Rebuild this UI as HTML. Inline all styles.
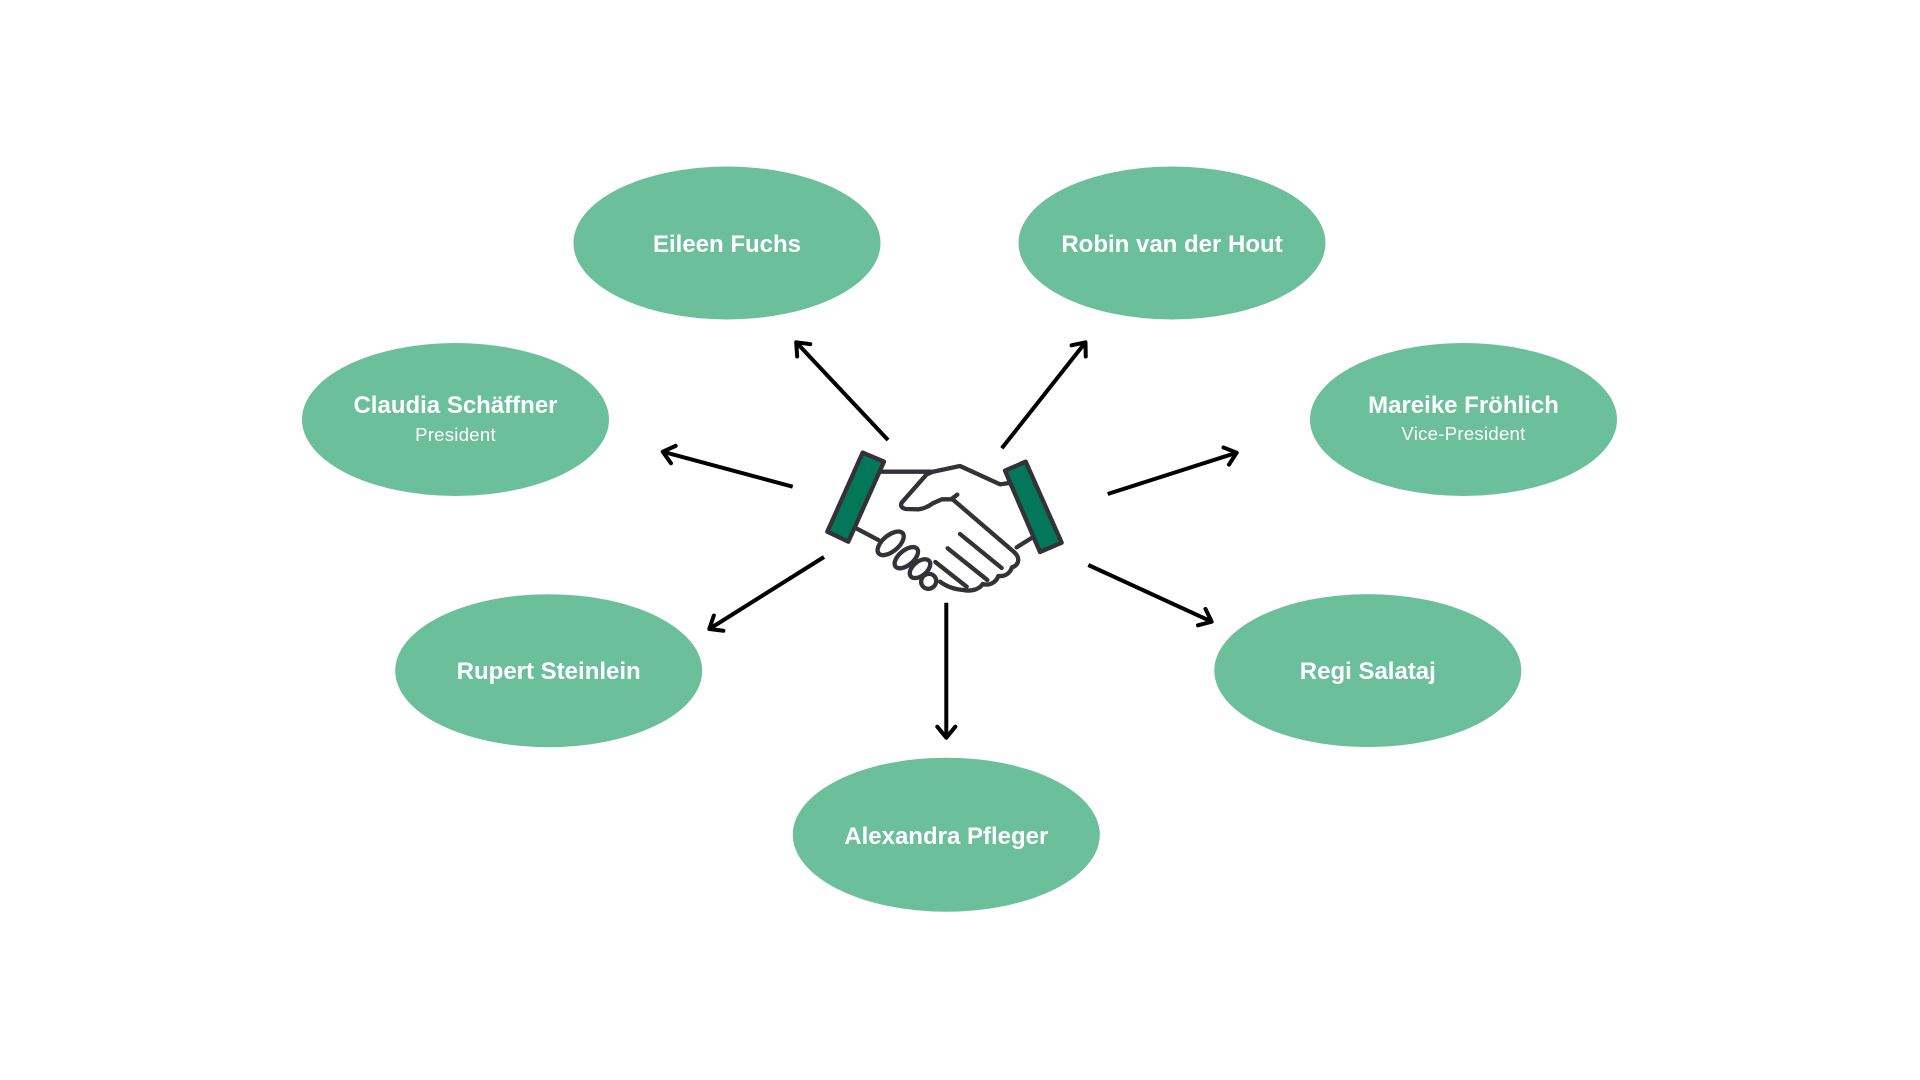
<!DOCTYPE html>
<html>
<head>
<meta charset="utf-8">
<style>
  html, body { margin: 0; padding: 0; background: #ffffff; }
  body { width: 1920px; height: 1080px; overflow: hidden; }
  svg { display: block; }
  .name { font-family: "Liberation Sans", "DejaVu Sans", sans-serif; font-weight: bold; font-size: 24px; fill: #ffffff; }
  .role { font-family: "Liberation Sans", "DejaVu Sans", sans-serif; font-size: 18.5px; fill: #ffffff; letter-spacing: 0.3px; }
</style>
</head>
<body>
<svg width="1920" height="1080" viewBox="0 0 1920 1080" xmlns="http://www.w3.org/2000/svg">
  <defs>
    <marker id="ah" markerUnits="userSpaceOnUse" markerWidth="30" markerHeight="30" refX="0" refY="0" viewBox="-15 -15 30 30" orient="auto" overflow="visible">
      <path d="M-11,-9 L0,0 L-11,9" fill="none" stroke="#000" stroke-width="4" stroke-linecap="round" stroke-linejoin="round"/>
    </marker>
  </defs>
  <rect width="1920" height="1080" fill="#ffffff"/>

  <!-- Ellipses -->
  <g fill="#6CBF9B">
    <ellipse cx="727" cy="243" rx="153.5" ry="76.5"/>
    <ellipse cx="1172" cy="243" rx="153.5" ry="76.5"/>
    <ellipse cx="455.5" cy="419.5" rx="153.5" ry="76.5"/>
    <ellipse cx="1463.5" cy="419.5" rx="153.5" ry="76.5"/>
    <ellipse cx="548.7" cy="670.7" rx="153.5" ry="76.5"/>
    <ellipse cx="1367.8" cy="670.6" rx="153.5" ry="76.5"/>
    <ellipse cx="946.3" cy="834.7" rx="153.5" ry="77"/>
  </g>

  <!-- Labels -->
  <g text-anchor="middle">
    <text class="name" x="727" y="252">Eileen Fuchs</text>
    <text class="name" x="1172" y="252">Robin van der Hout</text>
    <text class="name" x="455.5" y="413">Claudia Schäffner</text>
    <text class="role" x="455.5" y="441">President</text>
    <text class="name" x="1463.5" y="413">Mareike Fröhlich</text>
    <text class="role" x="1463.5" y="440">Vice-President</text>
    <text class="name" x="548.7" y="679">Rupert Steinlein</text>
    <text class="name" x="1367.8" y="679">Regi Salataj</text>
    <text class="name" x="946.3" y="844">Alexandra Pfleger</text>
  </g>

  <!-- Arrows -->
  <g stroke="#000" stroke-width="4" fill="none" stroke-linecap="butt" marker-end="url(#ah)">
    <line x1="888" y1="440" x2="796.2" y2="342.3"/>
    <line x1="1001.8" y1="448.3" x2="1085.5" y2="342.3"/>
    <line x1="792.7" y1="486.7" x2="662.7" y2="451.7"/>
    <line x1="824" y1="557" x2="709.3" y2="629"/>
    <line x1="1107.7" y1="494" x2="1236.7" y2="452.7"/>
    <line x1="1088.3" y1="565" x2="1211.7" y2="621.7"/>
    <line x1="946.3" y1="602.7" x2="946.3" y2="737.7"/>
  </g>

  <!-- Handshake icon -->
  <g transform="translate(820,440) scale(0.3333333)" stroke="#333238" stroke-width="13" stroke-linejoin="round" stroke-linecap="round" fill="none">
    <!-- top line of left hand -->
    <path d="M178,95 L332,95"/>
    <!-- top of right hand -->
    <path d="M330,97 L420,78 L540,133 L575,128"/>
    <!-- thumb of right hand -->
    <path d="M334,97 L320,103 L245,188 Q238,203 258,207 L295,208 Q318,205 338,190 L365,178 L398,178"/>
    <path d="M396,176 L412,164"/>
    <!-- left wrist bottom -->
    <path d="M103,262 L175,300"/>
    <!-- right hand fingers bottom contour -->
    <path d="M398,178 L582,336 C602,354 597,375 576,382 C570,400 555,410 535,408 C528,428 508,438 488,432 C478,448 455,455 430,450 C400,448 380,440 360,425"/>
    <!-- knuckles -->
    <g fill="#ffffff">
      <ellipse cx="326" cy="424" rx="23" ry="22" transform="rotate(-40 326 424)"/>
      <ellipse cx="300" cy="386" rx="36" ry="21" transform="rotate(-40 300 386)"/>
      <ellipse cx="259" cy="353" rx="42" ry="22" transform="rotate(-40 259 353)"/>
      <ellipse cx="212" cy="310" rx="47" ry="24" transform="rotate(-40 212 310)"/>
    </g>
    <!-- finger lines -->
    <path d="M420,282 L545,384"/>
    <path d="M383,325 L502,420"/>
    <path d="M346,366 L440,440"/>
    <!-- right wrist bottom -->
    <path d="M641,290 L590,322"/>
    <!-- cuffs -->
    <polygon points="128,38 192,65 85,305 22,275" fill="#03775A"/>
    <polygon points="555,92 617,65 725,308 660,336" fill="#03775A"/>
  </g>
</svg>
</body>
</html>
